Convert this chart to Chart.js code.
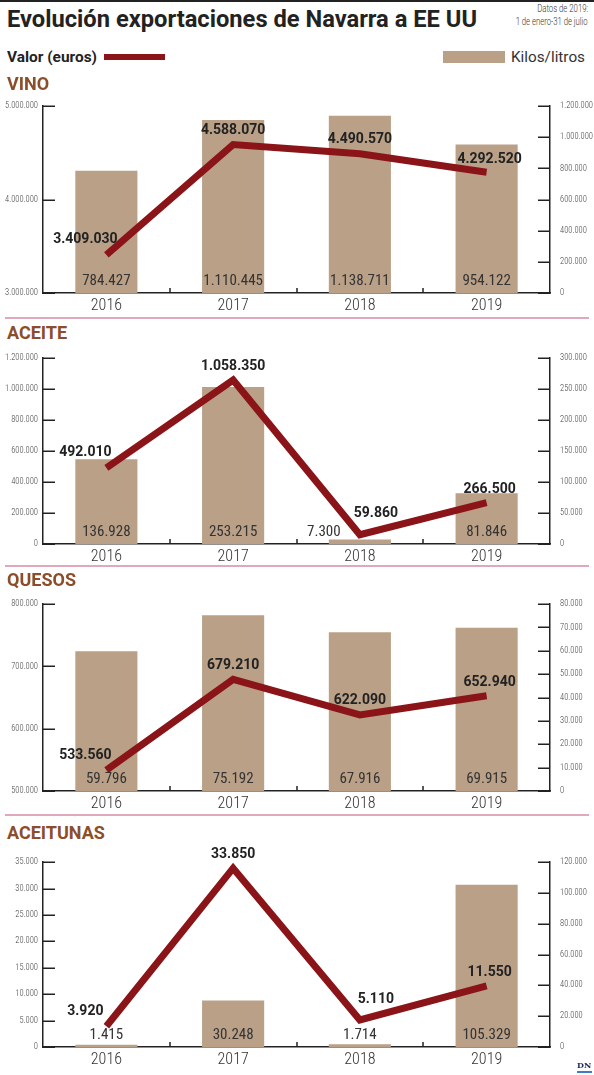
<!DOCTYPE html>
<html>
<head>
<meta charset="utf-8">
<script src="https://cdn.jsdelivr.net/npm/chart.js@4.4.1/dist/chart.umd.min.js"></script>
<style>
  html, body { margin: 0; padding: 0; background: #fff; }
  body { width: 594px; height: 1075px; position: relative; overflow: hidden; font-family: Roboto, "Liberation Sans", sans-serif; color: #222; }
  .abs { position: absolute; white-space: nowrap; }
  .fit { display: inline-block; transform-origin: left center; }
  .fitR { display: inline-block; transform-origin: right center; }
  .head { font-weight: 700; font-size: 18px; color: #8c4e2a; left: 7px; line-height: 18px; }
  .sep { position: absolute; left: 5px; width: 584px; height: 2px; background: #e0a9bb; }
  canvas { position: absolute; left: 0; }
</style>
</head>
<body>
<div class="abs" style="left:0;top:0;width:594px;height:2px;background:#222"></div>
<div class="abs" style="left:7px;top:5px;font-size:24px;font-weight:700;line-height:28px;color:#222"><span class="fit" data-w="470">Evolución exportaciones de Navarra a EE UU</span></div>
<div class="abs" style="right:6px;top:2px;font-size:11px;font-weight:300;line-height:13px;text-align:right;color:#333">
  <span class="fitR" data-w="51">Datos de 2019:</span><br>
  <span class="fitR" data-w="72">1 de enero-31 de julio</span>
</div>
<div class="abs" style="left:7px;top:48px;font-size:15px;font-weight:700;line-height:18px"><span class="fit" data-w="90">Valor (euros)</span></div>
<div class="abs" style="left:104px;top:54px;width:61px;height:6px;background:#8b1419"></div>
<div class="abs" style="left:443px;top:51px;width:62px;height:12px;background:#b9a087"></div>
<div class="abs" style="left:511px;top:48px;font-size:15px;font-weight:400;line-height:18px;color:#333"><span class="fit" data-w="74">Kilos/litros</span></div>
<div id="panels"></div>
<div class="abs" style="left:577px;top:1061px;font-family:'DejaVu Serif',serif;font-weight:700;font-size:8px;color:#1d2b55;line-height:9px">DN</div>
<div class="abs" style="left:577px;top:1071px;width:15px;height:2px;background:#3d7cc9"></div>
<script>
// años
var years = ['2016', '2017', '2018', '2019'];

// valor en euros (línea)
var vinoValor = [3409030, 4588070, 4490570, 4292520];
var aceiteValor = [492010, 1058350, 59860, 266500];
var quesosValor = [533560, 679210, 622090, 652940];
var aceitunasValor = [3920, 33850, 5110, 11550];

// kilos/litros (barras)
var vinoKilos = [784427, 1110445, 1138711, 954122];
var aceiteKilos = [136928, 253215, 7300, 81846];
var quesosKilos = [59796, 75192, 67916, 69915];
var aceitunasKilos = [1415, 30248, 1714, 105329];

// ejes: [min, max, paso]
var vinoEjeValor = [3000000, 5000000, 1000000];
var vinoEjeKilos = [0, 1200000, 200000];
var aceiteEjeValor = [0, 1200000, 200000];
var aceiteEjeKilos = [0, 300000, 50000];
var quesosEjeValor = [500000, 800000, 100000];
var quesosEjeKilos = [0, 80000, 10000];
var aceitunasEjeValor = [0, 35000, 5000];
var aceitunasEjeKilos = [0, 120000, 20000];

var NARROW = '"Roboto Condensed", "DejaVu Sans Condensed", Roboto, sans-serif';

// ajustar ancho de textos
document.querySelectorAll('.fit, .fitR').forEach(function (el) {
  var w = el.getBoundingClientRect().width;
  el.style.transform = 'scaleX(' + (el.dataset.w / w) + ')';
});

function fmt(v) {
  return String(v).replace(/\B(?=(\d{3})+(?!\d))/g, '.');
}

var BAR = '#b9a087';
var LINE = '#8b1419';
var INK = '#222';

var panels = [
  { name: 'VINO', valor: vinoValor, kilos: vinoKilos, ejeV: vinoEjeValor, ejeK: vinoEjeKilos, head: 75, top: 101, bottom: 293, sep: 317 },
  { name: 'ACEITE', valor: aceiteValor, kilos: aceiteKilos, ejeV: aceiteEjeValor, ejeK: aceiteEjeKilos, head: 324, top: 353, bottom: 544, sep: 565 },
  { name: 'QUESOS', valor: quesosValor, kilos: quesosKilos, ejeV: quesosEjeValor, ejeK: quesosEjeKilos, head: 571, top: 599, bottom: 791, sep: 814 },
  { name: 'ACEITUNAS', valor: aceitunasValor, kilos: aceitunasKilos, ejeV: aceitunasEjeValor, ejeK: aceitunasEjeKilos, head: 824, top: 857, bottom: 1047, sep: null }
];

// marcas hacia dentro + separadores de categoría + etiquetas
var extras = {
  id: 'extras',
  afterDatasetsDraw: function (chart) {
    var ctx = chart.ctx;
    var area = chart.chartArea;
    var x = chart.scales.x;
    ctx.save();
    ctx.strokeStyle = INK;
    ctx.lineWidth = 1.5;
    // ticks interiores
    ['y', 'y1'].forEach(function (id) {
      var s = chart.scales[id];
      s.ticks.forEach(function (t) {
        var py = Math.round(s.getPixelForValue(t.value)) + 0.25;
        ctx.beginPath();
        if (id === 'y') { ctx.moveTo(area.left, py); ctx.lineTo(area.left + 12, py); }
        else { ctx.moveTo(area.right, py); ctx.lineTo(area.right - 12, py); }
        ctx.stroke();
      });
    });
    for (var i = 1; i < years.length; i++) {
      var px = Math.round((x.getPixelForValue(i - 1) + x.getPixelForValue(i)) / 2);
      ctx.beginPath();
      ctx.moveTo(px, area.bottom);
      ctx.lineTo(px, area.bottom - 5);
      ctx.stroke();
    }

    var lineMeta = chart.getDatasetMeta(0);
    var barMeta = chart.getDatasetMeta(1);
    var vals = chart.data.datasets[0].data;
    var kil = chart.data.datasets[1].data;

    // etiquetas de las barras
    ctx.font = '400 15px ' + NARROW;
    ctx.fillStyle = '#333';
    ctx.textAlign = 'center';
    ctx.textBaseline = 'middle';
    barMeta.data.forEach(function (b, i) {
      var ly = area.bottom - 12;
      var lx = b.x;
      var pt = lineMeta.data[i];
      if (pt.y > ly - 3) lx = b.x - 36;
      ctx.fillText(fmt(kil[i]), lx, ly);
    });

    // etiquetas de la línea
    ctx.font = '700 14px Roboto, sans-serif';
    ctx.fillStyle = INK;
    lineMeta.data.forEach(function (p, i) {
      var dx = 0, dy = -14;
      var prev = lineMeta.data[i - 1], next = lineMeta.data[i + 1];
      if (i === 0) { dx = -21; dy = -15; }
      else if (!next) { dx = 3; dy = -13; }
      else if (p.y - prev.y > 100 && p.y > next.y) { dx = 16; dy = -21; }
      ctx.fillText(fmt(vals[i]), p.x + dx, p.y + dy);
    });
    ctx.restore();
  }
};

var host = document.getElementById('panels');
panels.forEach(function (p) {
  var h = document.createElement('div');
  h.className = 'abs head';
  h.style.top = p.head + 'px';
  h.textContent = p.name;
  document.body.appendChild(h);
  if (p.sep) {
    var s = document.createElement('div');
    s.className = 'sep';
    s.style.top = p.sep + 'px';
    document.body.appendChild(s);
  }

  var padTop = 10, axisH = 24;
  var cv = document.createElement('canvas');
  var ch = p.bottom - p.top + padTop + axisH;
  cv.width = 594; cv.height = ch;
  cv.style.top = (p.top - padTop) + 'px';
  cv.style.width = '594px'; cv.style.height = ch + 'px';
  host.appendChild(cv);

  new Chart(cv.getContext('2d'), {
    type: 'bar',
    data: {
      labels: years,
      datasets: [{
        type: 'line',
        label: 'Valor (euros)',
        data: p.valor,
        yAxisID: 'y',
        borderColor: LINE,
        borderWidth: 7,
        pointRadius: 0,
        tension: 0,
        borderCapStyle: 'butt',
        borderJoinStyle: 'miter',
        order: 0
      }, {
        type: 'bar',
        label: 'Kilos/litros',
        data: p.kilos,
        yAxisID: 'y1',
        backgroundColor: BAR,
        categoryPercentage: 1,
        barPercentage: 0.49,
        order: 1
      }]
    },
    options: {
      responsive: false,
      animation: false,
      devicePixelRatio: 1,
      layout: { padding: { top: padTop, left: 0, right: 0, bottom: 0 } },
      plugins: { legend: { display: false }, tooltip: { enabled: false } },
      scales: {
        x: {
          grid: { display: false, drawTicks: false },
          border: { display: true, color: INK, width: 1.5 },
          ticks: { color: '#333', padding: 3, font: { family: NARROW, size: 16, weight: 300 } },
          afterFit: function (s) { s.height = axisH; }
        },
        y: {
          position: 'left',
          min: p.ejeV[0], max: p.ejeV[1],
          grid: { display: false, drawTicks: false },
          border: { display: true, color: INK, width: 1.5 },
          ticks: { stepSize: p.ejeV[2], padding: 5, color: '#444', font: { family: NARROW, size: 8.5, weight: 300 }, callback: function (v) { return fmt(v); } },
          afterFit: function (s) { s.width = 43; }
        },
        y1: {
          position: 'right',
          min: p.ejeK[0], max: p.ejeK[1],
          grid: { display: false, drawTicks: false },
          border: { display: true, color: INK, width: 1.5 },
          ticks: { stepSize: p.ejeK[2], padding: 10, color: '#444', font: { family: NARROW, size: 8.5, weight: 300 }, callback: function (v) { return fmt(v); } },
          afterFit: function (s) { s.width = 44; }
        }
      }
    },
    plugins: [extras]
  });
});
</script>
</body>
</html>
